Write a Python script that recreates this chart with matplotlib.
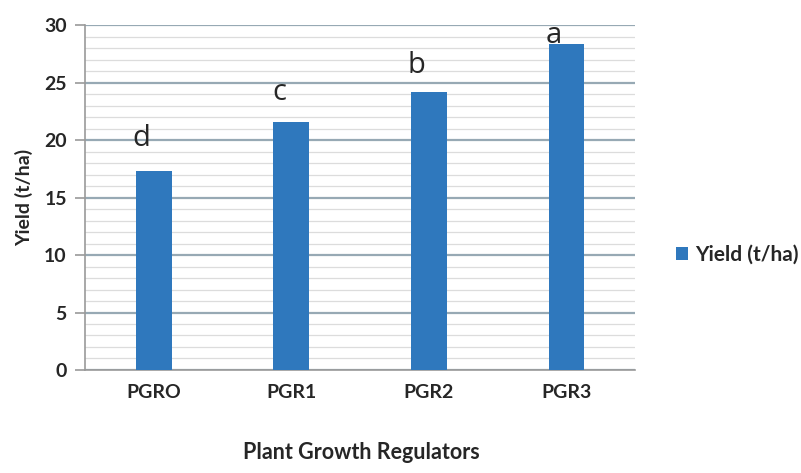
import numpy as np
import matplotlib.pyplot as plt
from matplotlib.ticker import MultipleLocator

BAR_C    = "#2f78bd"
MAJOR_C  = "#97a9b4"
MINOR_C  = "#dcdcdc"
AXIS_C   = "#9a9a9a"
TEXT     = "#262626"

categories = ["PGRO", "PGR1", "PGR2", "PGR3"]
yields     = [17.3, 21.6, 24.2, 28.35]
letters    = ["d", "c", "b", "a"]

plt.rcParams["font.family"] = ["Lato", "DejaVu Sans"]

fig = plt.figure(figsize=(8.01, 4.73), dpi=100)
ax = fig.add_axes([0.106, 0.2178, 0.687, 0.729])

x = np.arange(len(categories))
ax.bar(x, yields, width=0.26, color=BAR_C, zorder=3, label="Yield (t/ha)")

# significance letters, sitting a bit left of the bar centres
lift = [1.6, 1.3, 1.0, -0.5]
for xi, v, s, d in zip(x, yields, letters, lift):
    ax.text(xi - 0.09, v + d, s, ha="center", va="bottom",
            fontsize=21, color=TEXT, family=["Open Sans", "DejaVu Sans"], zorder=4)

ax.set_xlim(-0.5, len(categories) - 0.5)
ax.set_ylim(0, 30)
ax.yaxis.set_major_locator(MultipleLocator(5))
ax.yaxis.set_minor_locator(MultipleLocator(1))
ax.grid(True, which="major", axis="y", color=MAJOR_C, lw=1.6, zorder=1)
ax.grid(True, which="minor", axis="y", color=MINOR_C, lw=0.9, zorder=0)

ax.set_xticks(x)
ax.set_xticklabels(categories, fontsize=14, fontweight="bold", color=TEXT)
ax.tick_params(axis="x", length=0, pad=10)
ax.tick_params(axis="y", which="major", length=7, color=AXIS_C, width=1.2,
               labelsize=14, labelcolor=TEXT, pad=6)
ax.tick_params(axis="y", which="minor", length=0)
for lab in ax.get_yticklabels():
    lab.set_fontweight("bold")

for side in ["top", "right"]:
    ax.spines[side].set_visible(False)
ax.spines["left"].set_color(AXIS_C)
ax.spines["left"].set_linewidth(1.2)
ax.spines["bottom"].set_color(AXIS_C)
ax.spines["bottom"].set_linewidth(1.2)

ax.set_ylabel("Yield (t/ha)", fontsize=14, fontweight="bold", color=TEXT, labelpad=8)
fig.text(0.451, 0.022, "Plant Growth Regulators", ha="center", va="bottom",
         fontsize=15.5, fontweight="bold", color=TEXT)

ax.legend(loc="center left", bbox_to_anchor=(1.04, 0.335), frameon=False,
          handlelength=0.6, handleheight=0.6, handletextpad=0.3,
          prop={"size": 15, "weight": "bold"}, labelcolor=TEXT)

fig.savefig("out.png", dpi=100, facecolor="white")
